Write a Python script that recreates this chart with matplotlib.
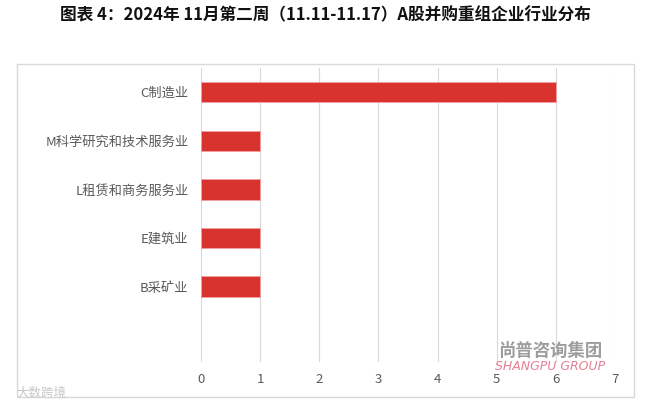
import matplotlib.pyplot as plt
from matplotlib.patches import Rectangle

plt.rcParams["font.family"] = ["Noto Sans CJK SC", "DejaVu Sans"]

# データ
categories = ["C制造业", "M科学研究和技术服务业", "L租赁和商务服务业", "E建筑业", "B采矿业"]
counts = [6, 1, 1, 1, 1]
x_ticks = [0, 1, 2, 3, 4, 5, 6, 7]
title = "图表 4：2024年 11月第二周（11.11-11.17）A股并购重组企业行业分布"

fig = plt.figure(figsize=(6.51, 4.07), dpi=100)
ax = fig.add_axes([0.3088, 0.111, 0.636, 0.722])

ypos = list(range(len(categories)))
ax.barh(ypos, counts, height=0.42, color="#d9332f", edgecolor="#f2a0a0", linewidth=0.6, zorder=3)

ax.set_xlim(0, 7)
ax.set_ylim(5.55, -0.5)
ax.set_xticks(x_ticks)
ax.set_yticks(ypos)
ax.set_yticklabels(categories)
ax.tick_params(axis="both", length=0, colors="#595959", labelsize=9.5)
ax.tick_params(axis="y", pad=9)
ax.tick_params(axis="x", pad=8)
ax.grid(axis="x", color="#d9d9d9", linewidth=0.8, zorder=0)
for s in ax.spines.values():
    s.set_visible(False)

# 外枠
fig.patches.append(Rectangle((17 / 651, 1 - 397 / 407), (634 - 17) / 651, (397 - 64) / 407,
                             transform=fig.transFigure, fill=False, edgecolor="#d9d9d9", linewidth=1))

fig.text(0.5, 1 - 15 / 407, title, ha="center", va="center", fontsize=12, fontweight="bold", color="#111111")

# ウォーターマーク
fig.text(550 / 651, 1 - 351 / 407, "尚普咨询集团", ha="center", va="center", fontsize=12.5, fontweight="bold", color="#8c8c8c", alpha=0.85)
fig.text(550 / 651, 1 - 366 / 407, "SHANGPU GROUP", ha="center", va="center", fontsize=9, style="italic",
         family="DejaVu Sans", color="#e06a80", alpha=0.85)
fig.text(0.025, 1 - 393 / 407, "大数跨境", ha="left", va="center", fontsize=9, color="#c8c8c8")

fig.savefig("out.png", dpi=100)
